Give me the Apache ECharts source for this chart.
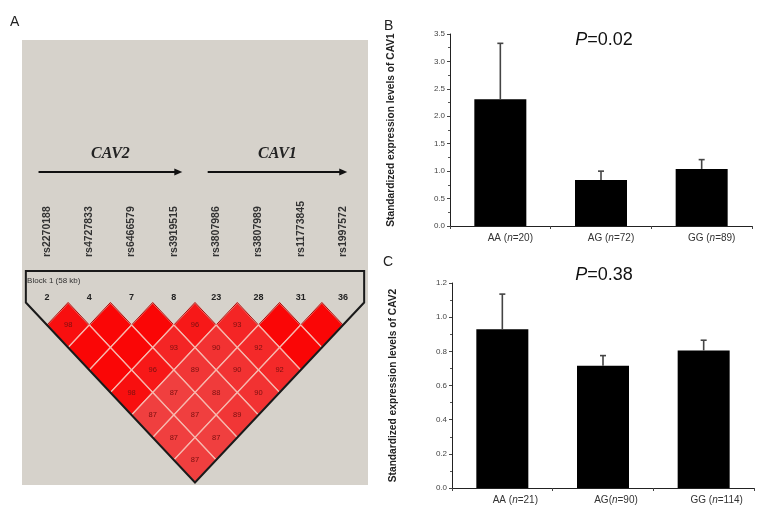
<!DOCTYPE html>
<html>
<head>
<meta charset="utf-8">
<script src="https://cdn.jsdelivr.net/npm/echarts@6/dist/echarts.min.js"></script>
<style>html,body{margin:0;padding:0;background:#fff;}#c{width:761px;height:512px;}</style>
</head>
<body>
<div id="c"></div>
<script>
// ---------- Panel A data ----------
const snps = ['rs2270188','rs4727833','rs6466579','rs3919515','rs3807986','rs3807989','rs11773845','rs1997572'];
const markerIds = ['2','4','7','8','23','28','31','36'];
const genes = ['CAV2','CAV1'];
const geneStart = [-0.2, 3.8];   // in marker-index units
const geneEnd = [3.2, 7.1];
// D' (x100) by marker distance; 100 = complete LD (no number shown)
const ldDist1 = [98, 100, 100, 96, 93, 100, 100];
const ldDist2 = [100, 100, 93, 90, 92, 100];
const ldDist3 = [100, 96, 89, 90, 92];
const ldDist4 = [98, 87, 88, 90];
const ldDist5 = [87, 87, 89];
const ldDist6 = [87, 87];
const ldDist7 = [87];
const blockLabel = 'Block 1 (58 kb)';

// ---------- Panel B data ----------
const catsB = ['AA (n=20)', 'AG (n=72)', 'GG (n=89)'];
const meanB = [2.31, 0.84, 1.04];
const upperB = [3.33, 1.00, 1.21];
const pB = '0.02';
const yMaxB = 3.5, yStepB = 0.5;
const yNameB = 'Standardized expression levels of CAV1';

// ---------- Panel C data ----------
const catsC = ['AA (n=21)', 'AG(n=90)', 'GG (n=114)'];
const meanC = [0.93, 0.715, 0.805];
const upperC = [1.135, 0.775, 0.865];
const pC = '0.38';
const yMaxC = 1.2, yStepC = 0.2;
const yNameC = 'Standardized expression levels of CAV2';

// ---------- build ----------
const ldRows = [ldDist1, ldDist2, ldDist3, ldDist4, ldDist5, ldDist6, ldDist7];
const ldData = [];
ldRows.forEach((row, d) => row.forEach((v, k) => ldData.push([k, k + d + 1, v])));

function ldColor(v) {
  const t = 100 - v;
  const r = Math.round(250 - t * 0.8);
  const g = Math.round(6 + t * 4.4);
  return 'rgb(' + r + ',' + g + ',' + g + ')';
}

const chart = echarts.init(document.getElementById('c'), null, {renderer: 'canvas'});

function errRender(params, api) {
  const p0 = api.coord([api.value(0), api.value(1)]);
  const p1 = api.coord([api.value(0), api.value(2)]);
  return {
    type: 'group',
    children: [
      {type: 'line', shape: {x1: p0[0], y1: p0[1], x2: p1[0], y2: p1[1]}, style: {stroke: '#444', lineWidth: 1.6}},
      {type: 'line', shape: {x1: p1[0] - 3, y1: p1[1], x2: p1[0] + 3, y2: p1[1]}, style: {stroke: '#444', lineWidth: 1.6}}
    ]
  };
}

function barXAxis(gi, cats, pad) {
  return {
    type: 'category', gridIndex: gi, data: cats,
    axisLine: {lineStyle: {color: '#222', width: 1}},
    axisTick: {show: true, alignWithLabel: false, length: 3, lineStyle: {color: '#444'}},
    axisLabel: {
      margin: 7, fontSize: 10, color: '#333', fontFamily: 'Liberation Sans', padding: [0, 0, 0, pad],
      formatter: v => v.replace('(n', '({i|n}'),
      rich: {i: {fontStyle: 'italic', fontSize: 10, color: '#333', fontFamily: 'Liberation Sans'}}
    }
  };
}
function barYAxis(gi, max, step, name) {
  return {
    type: 'value', gridIndex: gi, min: 0, max: max, interval: step,
    name: name, nameLocation: 'middle', nameGap: 54,
    nameTextStyle: {fontSize: 10.2, fontWeight: 'bold', color: '#222', fontFamily: 'Liberation Sans'},
    axisLine: {show: true, lineStyle: {color: '#222'}},
    axisTick: {show: true, length: 3, lineStyle: {color: '#444'}},
    minorTick: {show: true, splitNumber: 2, length: 2, lineStyle: {color: '#555'}},
    splitLine: {show: false},
    axisLabel: {fontSize: 8, color: '#444', margin: 5, formatter: v => v.toFixed(1), fontFamily: 'Liberation Sans'}
  };
}

const option = {
  animation: false,
  backgroundColor: '#ffffff',
  graphic: [
    {type: 'rect', z: 0, shape: {x: 22, y: 40, width: 346, height: 445}, style: {fill: '#d6d2cb'}},
    {type: 'text', z: 5, x: 10, y: 15, style: {text: 'A', fontSize: 14, fill: '#222', fontFamily: 'Liberation Sans'}},
    {type: 'text', z: 5, x: 384, y: 19, style: {text: 'B', fontSize: 14, fill: '#222', fontFamily: 'Liberation Sans'}},
    {type: 'text', z: 5, x: 383, y: 255, style: {text: 'C', fontSize: 14, fill: '#222', fontFamily: 'Liberation Sans'}},
    {type: 'text', z: 5, x: 604, y: 40, style: {text: '{i|P}=' + pB, align: 'center', verticalAlign: 'middle', fontSize: 18, fill: '#111', fontFamily: 'Liberation Sans', rich: {i: {fontStyle: 'italic', fontSize: 18, fill: '#111', fontFamily: 'Liberation Sans'}}}},
    {type: 'text', z: 5, x: 604, y: 275, style: {text: '{i|P}=' + pC, align: 'center', verticalAlign: 'middle', fontSize: 18, fill: '#111', fontFamily: 'Liberation Sans', rich: {i: {fontStyle: 'italic', fontSize: 18, fill: '#111', fontFamily: 'Liberation Sans'}}}}
  ],
  grid: [
    {left: 25.85, top: 302.5, width: 338.3, height: 180},
    {left: 450, top: 34, width: 302, height: 192},
    {left: 452, top: 283, width: 302, height: 205}
  ],
  xAxis: [
    {type: 'value', gridIndex: 0, min: -0.5, max: 7.5, show: false},
    barXAxis(1, catsB, 20),
    barXAxis(2, catsC, 26)
  ],
  yAxis: [
    {type: 'value', gridIndex: 0, min: 0, max: 8, inverse: true, show: false},
    barYAxis(1, yMaxB, yStepB, yNameB),
    barYAxis(2, yMaxC, yStepC, yNameC)
  ],
  series: [
    // LD diamonds
    {
      type: 'custom', xAxisIndex: 0, yAxisIndex: 0, data: ldData, z: 3,
      renderItem: function (params, api) {
        const i = api.value(0), j = api.value(1), v = api.value(2);
        const cx = (i + j) / 2, r = j - i;
        const top = api.coord([cx, r - 1]), right = api.coord([cx + 0.5, r]);
        const bot = api.coord([cx, r + 1]), left = api.coord([cx - 0.5, r]);
        const ctr = api.coord([cx, r]);
        const ch = [{
          type: 'polygon', shape: {points: [top, right, bot, left]},
          style: {fill: ldColor(v), stroke: '#f7b8ae', lineWidth: 1.2}
        }];
        if (r === 1) {
          ch.push({type: 'polyline', shape: {points: [left, top, right]}, style: {stroke: '#a01010', lineWidth: 1, fill: null}});
        }
        if (v < 100) {
          ch.push({type: 'text', x: ctr[0], y: ctr[1], style: {text: String(v), fontSize: 7.5, fill: '#7a1010', align: 'center', verticalAlign: 'middle', fontFamily: 'Liberation Sans'}});
        }
        return {type: 'group', children: ch};
      }
    },
    // Block outline
    {
      type: 'custom', xAxisIndex: 0, yAxisIndex: 0, data: [[0]], z: 4,
      renderItem: function (params, api) {
        const n = markerIds.length;
        const pts = [[-0.5, 0], [-0.5, -1.4], [n - 0.5, -1.4], [n - 0.5, 0], [(n - 1) / 2, n]].map(p => api.coord(p));
        const lbl = api.coord([-0.47, -0.96]);
        return {type: 'group', children: [
          {type: 'polygon', shape: {points: pts}, style: {fill: null, stroke: '#1a1a1a', lineWidth: 2}},
          {type: 'text', x: lbl[0], y: lbl[1], style: {text: blockLabel, fontSize: 8, fill: '#333', align: 'left', verticalAlign: 'middle', fontFamily: 'Liberation Sans'}}
        ]};
      }
    },
    // marker numbers
    {
      type: 'custom', xAxisIndex: 0, yAxisIndex: 0, z: 4,
      data: markerIds.map((m, k) => [k]),
      renderItem: function (params, api) {
        const p = api.coord([api.value(0), -0.24]);
        return {type: 'text', x: p[0], y: p[1], style: {text: markerIds[params.dataIndex], fontSize: 9, fontWeight: 'bold', fill: '#222', align: 'center', verticalAlign: 'middle', fontFamily: 'Liberation Sans'}};
      }
    },
    // SNP names (rotated)
    {
      type: 'custom', xAxisIndex: 0, yAxisIndex: 0, z: 4,
      data: snps.map((s, k) => [k]),
      renderItem: function (params, api) {
        const p = api.coord([api.value(0), -2.02]);
        return {type: 'text', x: p[0], y: p[1], rotation: Math.PI / 2,
          style: {text: snps[params.dataIndex], fontSize: 10.5, fontWeight: 'bold', fill: '#333', align: 'left', verticalAlign: 'middle', fontFamily: 'Liberation Sans Narrow, Liberation Sans'}};
      }
    },
    // Gene arrows
    {
      type: 'custom', xAxisIndex: 0, yAxisIndex: 0, z: 4,
      data: genes.map((g, k) => [geneStart[k], geneEnd[k]]),
      renderItem: function (params, api) {
        const a = api.coord([api.value(0), -5.8]);
        const b = api.coord([api.value(1), -5.8]);
        const t = api.coord([(api.value(0) + api.value(1)) / 2, -6.6]);
        return {type: 'group', children: [
          {type: 'line', shape: {x1: a[0], y1: a[1], x2: b[0] - 6, y2: b[1]}, style: {stroke: '#111', lineWidth: 2}},
          {type: 'polygon', shape: {points: [[b[0] - 8, b[1] - 3.5], [b[0], b[1]], [b[0] - 8, b[1] + 3.5]]}, style: {fill: '#111'}},
          {type: 'text', x: t[0], y: t[1], style: {text: genes[params.dataIndex], fontSize: 16, fontStyle: 'italic', fontWeight: 'bold', fill: '#222', align: 'center', verticalAlign: 'middle', fontFamily: 'Liberation Serif'}}
        ]};
      }
    },
    // Panel B bars
    {type: 'bar', xAxisIndex: 1, yAxisIndex: 1, data: meanB, barWidth: 52, itemStyle: {color: '#000'}, z: 2},
    {type: 'custom', xAxisIndex: 1, yAxisIndex: 1, z: 3, data: meanB.map((m, k) => [k, m, upperB[k]]), renderItem: errRender},
    // Panel C bars
    {type: 'bar', xAxisIndex: 2, yAxisIndex: 2, data: meanC, barWidth: 52, itemStyle: {color: '#000'}, z: 2},
    {type: 'custom', xAxisIndex: 2, yAxisIndex: 2, z: 3, data: meanC.map((m, k) => [k, m, upperC[k]]), renderItem: errRender}
  ]
};
chart.setOption(option);
</script>
</body>
</html>
